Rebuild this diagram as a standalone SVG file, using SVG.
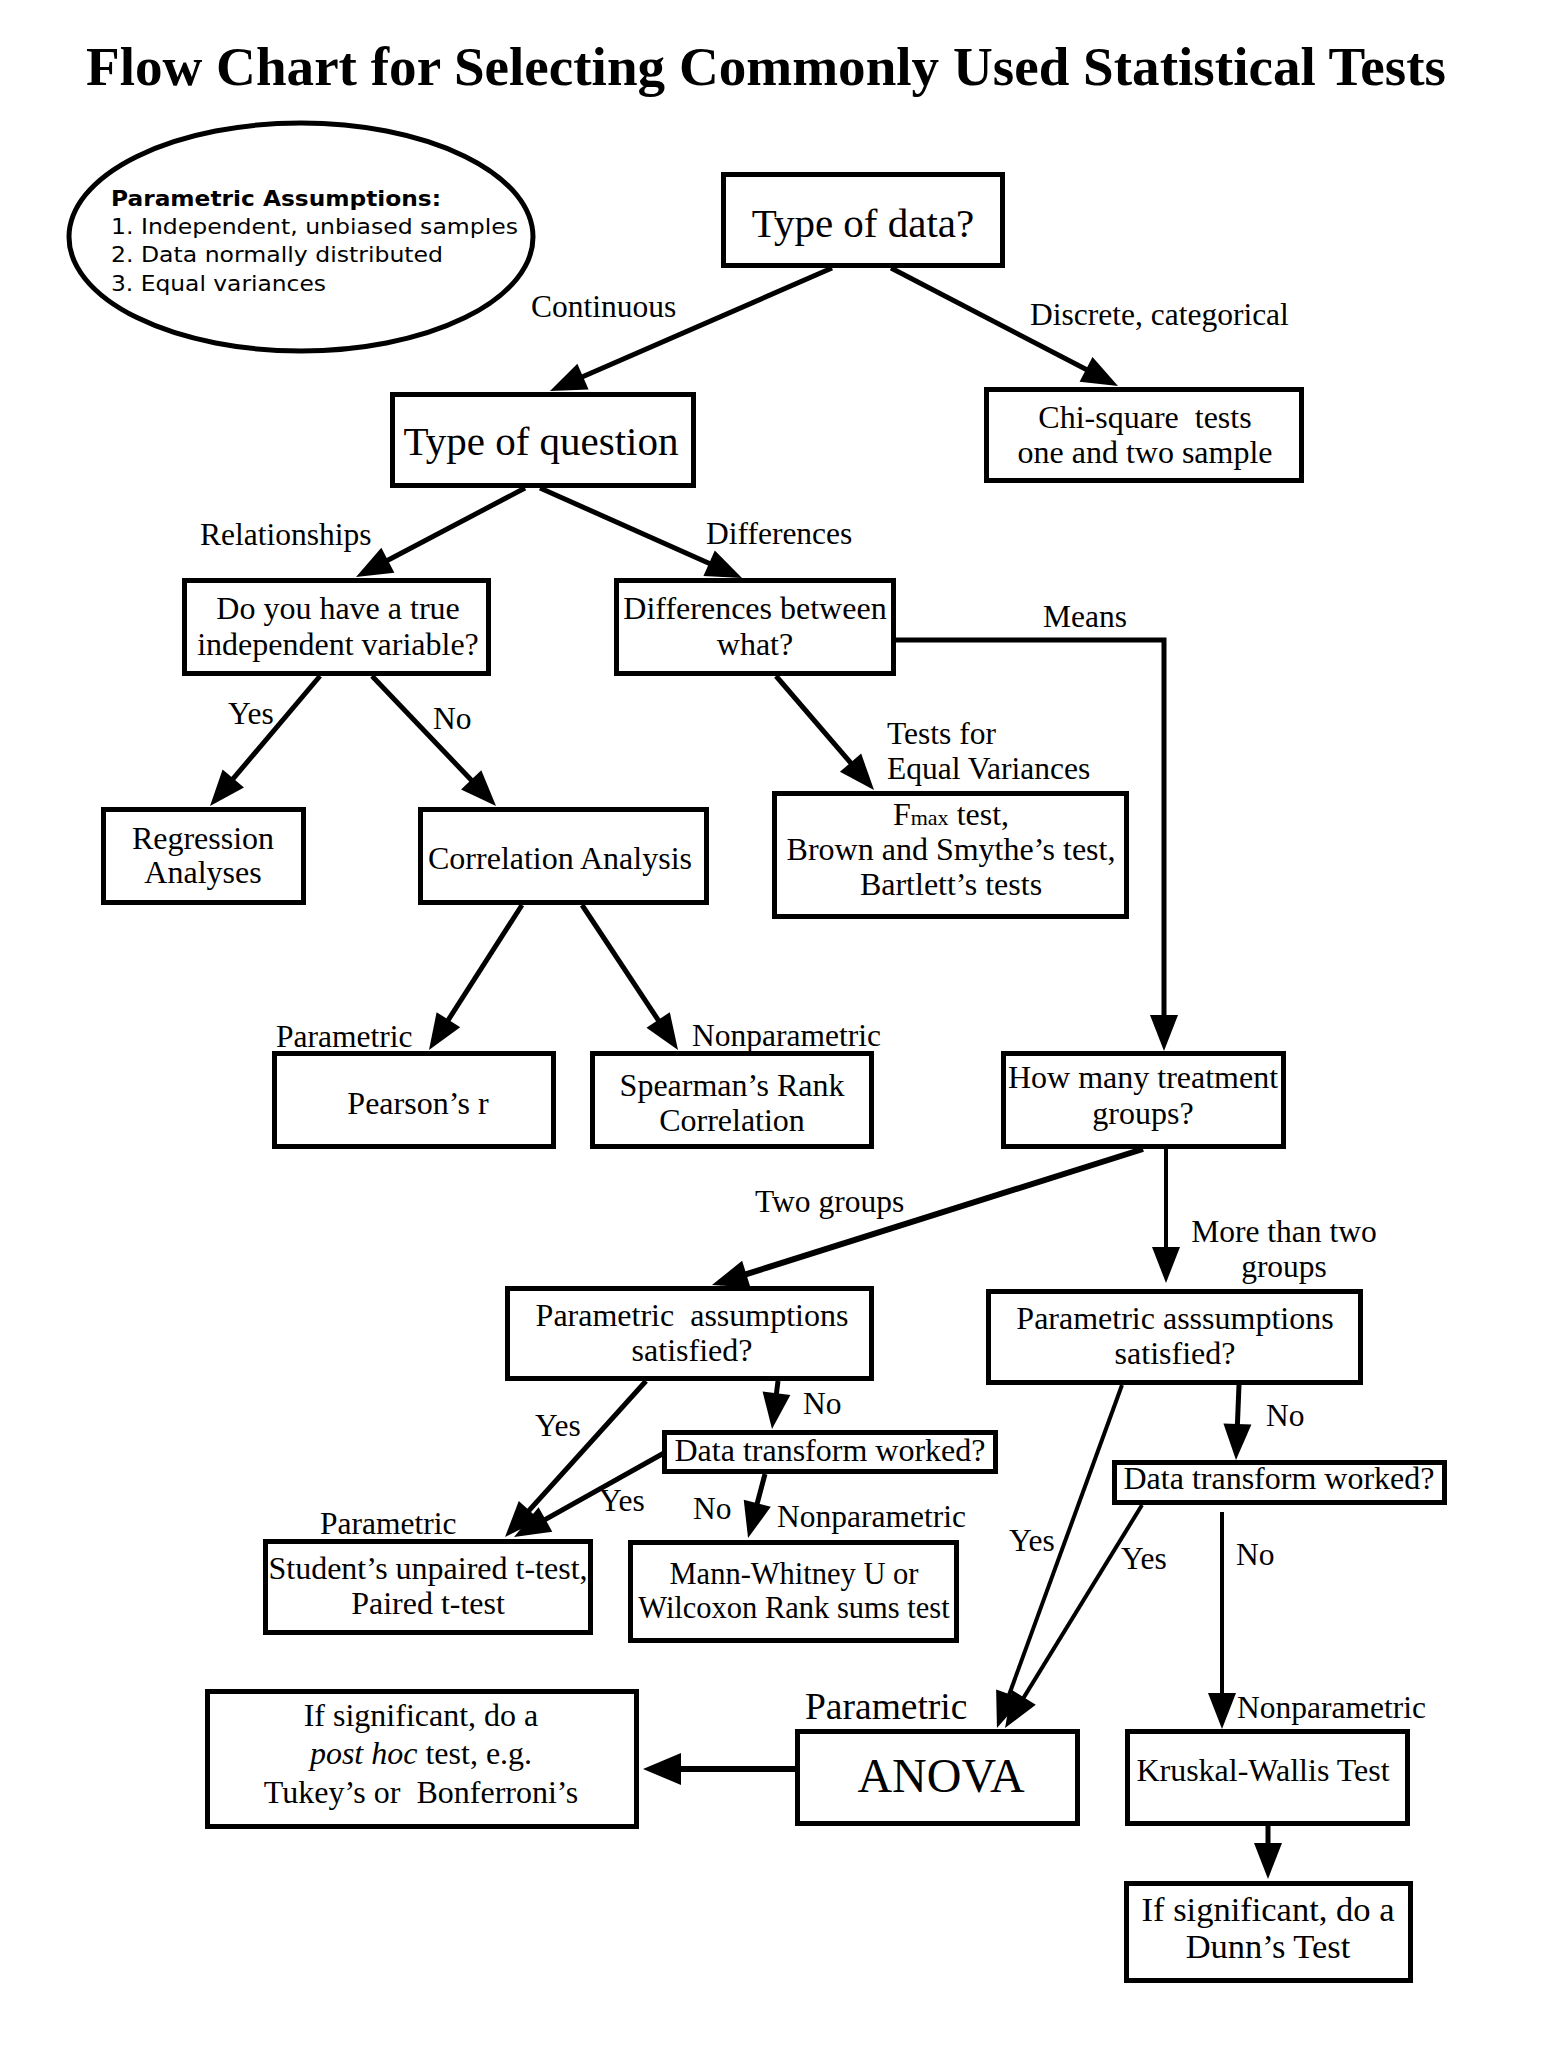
<svg xmlns="http://www.w3.org/2000/svg" width="1546" height="2048" viewBox="0 0 1546 2048">
<style>
.box{fill:#fff;stroke:#000;stroke-width:5}
.t{font-family:"Liberation Serif","Times New Roman",serif;font-size:32px;fill:#000;text-anchor:middle}
.l{font-family:"Liberation Serif","Times New Roman",serif;font-size:31.5px;fill:#000}
.s{font-family:"DejaVu Sans",Verdana,sans-serif;font-size:22px;fill:#000}
.c{stroke:#000;stroke-width:5;fill:none;marker-end:url(#ah)}
.thin{stroke-width:4}
.big{font-size:41px}
</style>
<defs>
<marker id="ah" markerUnits="userSpaceOnUse" markerWidth="40" markerHeight="30" refX="28" refY="14" orient="auto" overflow="visible">
<path d="M0,0 L36,14 L0,28 z" fill="#000"/>
</marker>
<marker id="ah2" markerUnits="userSpaceOnUse" markerWidth="40" markerHeight="34" refX="30" refY="16" orient="auto" overflow="visible">
<path d="M0,0 L38,16 L0,32 z" fill="#000"/>
</marker>
</defs>
<rect width="1546" height="2048" fill="#fff"/>
<text x="766" y="85" font-family="Liberation Serif,Times New Roman,serif" font-weight="bold" font-size="55" text-anchor="middle" textLength="1360" lengthAdjust="spacingAndGlyphs">Flow Chart for Selecting Commonly Used Statistical Tests</text>

<g id="assumptions">
<ellipse cx="301" cy="237" rx="232" ry="114" fill="#fff" stroke="#000" stroke-width="5"/>
<text class="s" x="111" y="206" font-weight="bold" textLength="330" lengthAdjust="spacingAndGlyphs">Parametric Assumptions:</text>
<text class="s" x="111" y="234" textLength="407" lengthAdjust="spacingAndGlyphs">1. Independent, unbiased samples</text>
<text class="s" x="111" y="262" textLength="332" lengthAdjust="spacingAndGlyphs">2. Data normally distributed</text>
<text class="s" x="111" y="291" textLength="215" lengthAdjust="spacingAndGlyphs">3. Equal variances</text>
</g>

<g id="connectors">
<line class="c" x1="832" y1="268" x2="557.3" y2="387.8"/>
<line class="c" x1="891" y1="268" x2="1110.9" y2="382.3"/>
<line class="c" x1="525" y1="488" x2="363.1" y2="573.3"/>
<line class="c" x1="540" y1="488" x2="734.7" y2="574.7"/>
<line class="c" x1="320" y1="676" x2="215.2" y2="799.9"/>
<line class="c" x1="372" y1="676" x2="490.5" y2="800.2"/>
<line class="c" x1="776" y1="676" x2="868.8" y2="783.9"/>
<path class="c" d="M894,640 H1164 V1043"/>
<line class="c" x1="522" y1="905" x2="433.3" y2="1043.3"/>
<line class="c" x1="582" y1="905" x2="673.6" y2="1043.3"/>
<line class="c" style="stroke-width:6px" x1="1143" y1="1149" x2="719.6" y2="1282.6"/>
<line class="c thin" x1="1166" y1="1149" x2="1166" y2="1275"/>
<line class="c" x1="646" y1="1381" x2="510.4" y2="1531.1"/>
<line class="c" x1="778" y1="1381" x2="773" y2="1421.1"/>
<line class="c" x1="664" y1="1453" x2="521" y2="1533.1"/>
<line class="c" x1="765" y1="1474" x2="750.1" y2="1530.3"/>
<line class="c thin" x1="1122" y1="1385" x2="999.7" y2="1720.5"/>
<line class="c" x1="1239" y1="1385" x2="1236.3" y2="1452"/>
<line class="c thin" x1="1142" y1="1505" x2="1009.2" y2="1721.2"/>
<line class="c thin" x1="1222" y1="1512" x2="1222" y2="1721"/>
<line stroke="#000" stroke-width="6" marker-end="url(#ah2)" x1="795" y1="1769" x2="651" y2="1769"/>
<line class="c" x1="1268" y1="1826" x2="1268" y2="1871"/>
</g>

<g id="labels">
<text class="l" x="531" y="317">Continuous</text>
<text class="l" x="1030" y="325">Discrete, categorical</text>
<text class="l" x="200" y="545">Relationships</text>
<text class="l" x="706" y="544">Differences</text>
<text class="l" x="1043" y="627">Means</text>
<text class="l" x="228" y="724">Yes</text>
<text class="l" x="433" y="729">No</text>
<text class="l" x="887" y="744">Tests for</text>
<text class="l" x="887" y="779">Equal Variances</text>
<text class="l" x="276" y="1047">Parametric</text>
<text class="l" x="692" y="1046">Nonparametric</text>
<text class="l" x="755" y="1212">Two groups</text>
<text class="l" x="1284" y="1242" text-anchor="middle">More than two</text>
<text class="l" x="1284" y="1277" text-anchor="middle">groups</text>
<text class="l" x="803" y="1414">No</text>
<text class="l" x="535" y="1436">Yes</text>
<text class="l" x="599" y="1511">Yes</text>
<text class="l" x="693" y="1519">No</text>
<text class="l" x="777" y="1527">Nonparametric</text>
<text class="l" x="320" y="1534">Parametric</text>
<text class="l" x="1009" y="1551">Yes</text>
<text class="l" x="1121" y="1569">Yes</text>
<text class="l" x="1266" y="1426">No</text>
<text class="l" x="1236" y="1565">No</text>
<text class="l" x="805" y="1719" style="font-size:37.5px">Parametric</text>
<text class="l" x="1237" y="1718">Nonparametric</text>
</g>

<g id="type-of-data">
<rect class="box" x="723.5" y="174.5" width="279" height="91"/>
<text class="t big" x="863" y="237">Type of data?</text>
</g>
<g id="type-of-question">
<rect class="box" x="392.5" y="394.5" width="301" height="91"/>
<text class="t big" x="541" y="455">Type of question</text>
</g>
<g id="chi-square">
<rect class="box" x="986.5" y="389.5" width="315" height="91"/>
<text class="t" x="1145" y="428">Chi-square&#160; tests</text>
<text class="t" x="1145" y="463">one and two sample</text>
</g>
<g id="independent-variable">
<rect class="box" x="184.5" y="580.5" width="304" height="93"/>
<text class="t" x="338" y="619">Do you have a true</text>
<text class="t" x="338" y="655">independent variable?</text>
</g>
<g id="differences-between">
<rect class="box" x="616.5" y="580.5" width="277" height="93"/>
<text class="t" x="755" y="619">Differences between</text>
<text class="t" x="755" y="655">what?</text>
</g>
<g id="regression">
<rect class="box" x="103.5" y="809.5" width="200" height="93"/>
<text class="t" x="203" y="849">Regression</text>
<text class="t" x="203" y="883">Analyses</text>
</g>
<g id="correlation">
<rect class="box" x="420.5" y="809.5" width="286" height="93"/>
<text class="t" x="560" y="869">Correlation Analysis</text>
</g>
<g id="equal-variances">
<rect class="box" x="774.5" y="793.5" width="352" height="123"/>
<text class="t" x="951" y="825">F<tspan style="font-size:22px">max</tspan> test,</text>
<text class="t" x="951" y="860">Brown and Smythe’s test,</text>
<text class="t" x="951" y="895">Bartlett’s tests</text>
</g>
<g id="pearson">
<rect class="box" x="274.5" y="1053.5" width="279" height="93"/>
<text class="t" x="418" y="1114">Pearson’s r</text>
</g>
<g id="spearman">
<rect class="box" x="592.5" y="1053.5" width="279" height="93"/>
<text class="t" x="732" y="1096">Spearman’s Rank</text>
<text class="t" x="732" y="1131">Correlation</text>
</g>
<g id="treatment-groups">
<rect class="box" x="1003.5" y="1053.5" width="280" height="93"/>
<text class="t" x="1143" y="1088">How many treatment</text>
<text class="t" x="1143" y="1124">groups?</text>
</g>
<g id="assumptions-two">
<rect class="box" x="507.5" y="1288.5" width="364" height="90"/>
<text class="t" x="692" y="1326">Parametric&#160; assumptions</text>
<text class="t" x="692" y="1361">satisfied?</text>
</g>
<g id="assumptions-more">
<rect class="box" x="988.5" y="1291.5" width="372" height="91"/>
<text class="t" x="1175" y="1329">Parametric asssumptions</text>
<text class="t" x="1175" y="1364">satisfied?</text>
</g>
<g id="transform-two">
<rect class="box" x="664.5" y="1432.5" width="331" height="39"/>
<text class="t" x="830" y="1461">Data transform worked?</text>
</g>
<g id="transform-more">
<rect class="box" x="1114.5" y="1462.5" width="330" height="40"/>
<text class="t" x="1279" y="1489">Data transform worked?</text>
</g>
<g id="t-test">
<rect class="box" x="265.5" y="1541.5" width="325" height="91"/>
<text class="t" x="428" y="1579">Student’s unpaired t-test,</text>
<text class="t" x="428" y="1614">Paired t-test</text>
</g>
<g id="mann-whitney">
<rect class="box" x="630.5" y="1542.5" width="326" height="98"/>
<text class="t" x="794" y="1584" style="font-size:30.5px">Mann-Whitney U or</text>
<text class="t" x="794" y="1618" style="font-size:30.5px">Wilcoxon Rank sums test</text>
</g>
<g id="post-hoc">
<rect class="box" x="207.5" y="1691.5" width="429" height="135"/>
<text class="t" x="421" y="1726">If significant, do a</text>
<text class="t" x="421" y="1764"><tspan font-style="italic">post hoc</tspan> test, e.g.</text>
<text class="t" x="421" y="1803">Tukey’s or&#160; Bonferroni’s</text>
</g>
<g id="anova">
<rect class="box" x="797.5" y="1731.5" width="280" height="92"/>
<text class="t" x="941" y="1792" style="font-size:48px">ANOVA</text>
</g>
<g id="kruskal-wallis">
<rect class="box" x="1127.5" y="1731.5" width="280" height="92"/>
<text class="t" x="1263" y="1781">Kruskal-Wallis Test</text>
</g>
<g id="dunn">
<rect class="box" x="1126.5" y="1883.5" width="284" height="97"/>
<text class="t" x="1268" y="1921" style="font-size:34.5px">If significant, do a</text>
<text class="t" x="1268" y="1958" style="font-size:34.5px">Dunn’s Test</text>
</g>
</svg>
